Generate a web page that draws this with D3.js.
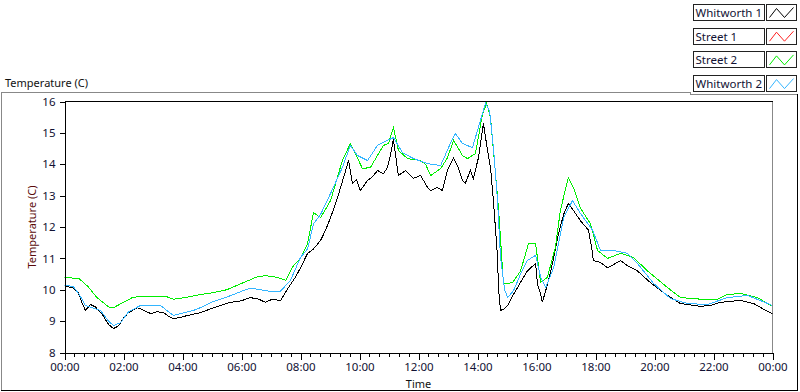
<!DOCTYPE html>
<html>
<head>
<meta charset="utf-8">
<script src="https://cdn.jsdelivr.net/npm/d3@7"></script>
<style>
  body { margin: 0; background: #fff; }
  svg { display: block; font-family: 'Noto Sans', sans-serif; font-size: 11px; }
  .tick text { fill: #111133; }
</style>
</head>
<body>
<svg id="chart" width="800" height="392"></svg>
<script>
// series: [hour of day, temperature in C]
const whitworth1 = [
  [0, 10.1], [0.27, 10.08], [0.47, 9.9], [0.61, 9.55], [0.71, 9.34], [0.88, 9.53], [1.05, 9.45],
  [1.29, 9.2], [1.49, 8.9], [1.66, 8.76], [1.83, 8.85], [2.0, 9.1], [2.17, 9.27], [2.47, 9.43],
  [2.68, 9.35], [2.92, 9.24], [3.15, 9.3], [3.36, 9.27], [3.53, 9.15], [3.69, 9.08], [3.93, 9.12],
  [4.17, 9.18], [4.61, 9.27], [4.98, 9.4], [5.29, 9.5], [5.63, 9.6], [6.0, 9.65], [6.3, 9.75],
  [6.58, 9.7], [6.81, 9.6], [7.05, 9.7], [7.32, 9.65], [7.59, 10.07], [7.83, 10.4], [8.0, 10.7],
  [8.24, 11.16], [8.44, 11.3], [8.68, 11.57], [8.85, 11.9], [9.02, 12.3], [9.19, 12.75], [9.36, 13.26],
  [9.53, 13.8], [9.63, 14.12], [9.76, 13.39], [9.9, 13.5], [10.03, 13.16], [10.27, 13.48], [10.44, 13.6],
  [10.61, 13.8], [10.81, 13.7], [10.95, 13.9], [11.05, 14.3], [11.15, 14.8], [11.25, 14.1], [11.32, 13.64],
  [11.56, 13.8], [11.83, 13.55], [12.07, 13.64], [12.31, 13.26], [12.41, 13.16], [12.64, 13.26], [12.81, 13.16],
  [12.98, 13.8], [13.19, 14.2], [13.36, 13.86], [13.49, 13.48], [13.59, 13.4], [13.76, 13.8], [13.86, 13.55],
  [14.03, 14.2], [14.2, 15.3], [14.34, 14.44], [14.44, 13.9], [14.54, 12.84], [14.68, 11.03], [14.71, 10.07],
  [14.78, 9.34], [14.92, 9.4], [15.02, 9.5], [15.19, 9.8], [15.36, 10.07], [15.53, 10.35], [15.69, 10.6],
  [15.97, 10.84], [16.03, 10.2], [16.14, 9.85], [16.2, 9.6], [16.41, 10.3], [16.58, 11.0], [16.75, 11.8],
  [16.92, 12.4], [17.08, 12.75], [17.25, 12.53], [17.49, 12.2], [17.76, 11.9], [17.86, 11.4], [17.93, 10.93],
  [18.17, 10.87], [18.41, 10.7], [18.61, 10.8], [18.85, 10.93], [19.08, 10.77], [19.42, 10.6], [19.86, 10.23],
  [20.44, 9.82], [20.88, 9.56], [21.56, 9.47], [21.9, 9.5], [22.24, 9.6], [22.92, 9.66], [23.36, 9.56],
  [23.66, 9.4], [24, 9.24]
];

const street1 = [];

const street2 = [
  [0, 10.4], [0.5, 10.35], [0.8, 10.1], [1.1, 9.75], [1.5, 9.45], [1.7, 9.45], [2.0, 9.6], [2.3, 9.75],
  [2.6, 9.8], [3.0, 9.8], [3.4, 9.8], [3.7, 9.7], [4.1, 9.75], [4.6, 9.85], [5.0, 9.9], [5.5, 10.0],
  [6.0, 10.2], [6.5, 10.4], [6.8, 10.45], [7.2, 10.4], [7.5, 10.3], [7.76, 10.77], [8.0, 11.0],
  [8.24, 11.47], [8.44, 12.46], [8.68, 12.3], [9.02, 12.84], [9.42, 14.12], [9.69, 14.66], [9.86, 14.34],
  [10.1, 13.86], [10.37, 13.9], [10.61, 14.28], [10.81, 14.6], [10.98, 14.66], [11.15, 15.17], [11.32, 14.44],
  [11.63, 14.18], [12.07, 14.12], [12.24, 14.0], [12.41, 13.64], [12.75, 13.86], [12.98, 14.2], [13.19, 14.76],
  [13.49, 14.28], [13.66, 14.18], [13.93, 14.34], [14.17, 15.6], [14.31, 15.94], [14.44, 15.5], [14.54, 14.44],
  [14.71, 12.62], [14.88, 10.2], [15.02, 10.2], [15.19, 10.23], [15.46, 10.6], [15.73, 11.47], [15.97, 11.47],
  [16.14, 10.23], [16.37, 10.4], [16.64, 11.35], [16.81, 12.53], [17.08, 13.58], [17.25, 13.26], [17.49, 12.6],
  [17.83, 12.1], [18.07, 11.25], [18.41, 11.0], [18.85, 11.16], [19.29, 11.03], [19.76, 10.6], [20.44, 10.07],
  [20.88, 9.75], [21.56, 9.7], [22.14, 9.7], [22.47, 9.85], [22.92, 9.88], [23.49, 9.75], [24, 9.47]
];

const whitworth2 = [
  [0, 10.15], [0.3, 10.1], [0.5, 9.85], [0.71, 9.5], [1.22, 9.34], [1.49, 9.0], [1.66, 8.86], [1.9, 8.95],
  [2.17, 9.3], [2.58, 9.5], [2.92, 9.5], [3.25, 9.5], [3.69, 9.18], [4.37, 9.34], [4.61, 9.43], [4.98, 9.6],
  [5.46, 9.75], [6.0, 9.95], [6.3, 10.05], [6.64, 10.0], [6.98, 9.95], [7.32, 9.95], [7.66, 10.3], [8.0, 11.03],
  [8.24, 11.3], [8.44, 12.1], [8.68, 12.4], [9.02, 13.07], [9.42, 13.9], [9.69, 14.6], [9.93, 14.28],
  [10.27, 14.12], [10.61, 14.6], [10.95, 14.76], [11.15, 14.85], [11.46, 14.37], [11.83, 14.18], [12.31, 14.02],
  [12.75, 13.96], [13.08, 14.66], [13.25, 14.98], [13.49, 14.66], [13.83, 14.53], [14.03, 15.17], [14.27, 15.94],
  [14.41, 15.7], [14.54, 14.53], [14.68, 12.84], [14.78, 11.03], [14.92, 10.0], [15.02, 9.75], [15.22, 9.97],
  [15.46, 10.5], [15.69, 10.93], [15.97, 11.1], [16.14, 10.4], [16.31, 10.07], [16.58, 10.7], [16.92, 12.3],
  [17.22, 12.84], [17.49, 12.43], [17.9, 11.9], [18.17, 11.25], [18.61, 11.25], [19.08, 11.16], [19.42, 10.84],
  [19.97, 10.2], [20.54, 9.72], [21.12, 9.56], [21.8, 9.53], [22.47, 9.75], [23.15, 9.82], [24, 9.5]
];

const seriesNames = ['Whitworth 1', 'Street 1', 'Street 2', 'Whitworth 2'];
const seriesColors = ['#000000', '#ff2020', '#00ee00', '#33b5ff'];
const yTicks = [8, 9, 10, 11, 12, 13, 14, 15, 16];
const xMajorTicks = [0, 2, 4, 6, 8, 10, 12, 14, 16, 18, 20, 22, 24];

class TempChart {
  constructor(svg) {
    this.svg = svg;
    this.series = [whitworth1, street1, street2, whitworth2];
    this.margin = { top: 101.5, bottom: 352.5, left: 64.5, right: 772.5 };

    this.x = d3.scaleLinear().domain([0, 24]).range([this.margin.left, this.margin.right]);
    this.y = d3.scaleLinear().domain([8, 16]).range([this.margin.bottom, this.margin.top]);
  }

  drawFrame() {
    const frame = this.svg.append('g').attr('fill', 'none').attr('shape-rendering', 'crispEdges');
    frame.append('path').attr('stroke', '#888').attr('d', 'M1.5,391V92.5H690.5V94.5H797');
    frame.append('path').attr('stroke', '#000').attr('d', 'M797.5,94V390.5H1');

    // plot box: top black, right grey
    frame.append('path').attr('stroke', '#000')
      .attr('d', `M${this.margin.left},${this.margin.top}H${this.margin.right}`);
    frame.append('path').attr('stroke', '#888')
      .attr('d', `M${this.margin.right},${this.margin.top}V${this.margin.bottom}`);

    this.svg.append('text')
      .attr('x', 5).attr('y', 87)
      .attr('fill', '#111')
      .text('Temperature (C)');
  }

  drawAxes() {
    const yAxis = d3.axisLeft(this.y).tickValues(yTicks).tickSize(5).tickSizeOuter(0).tickPadding(4);
    this.svg.append('g')
      .attr('transform', `translate(${this.margin.left},0)`)
      .attr('shape-rendering', 'crispEdges')
      .call(yAxis)
      .call(g => g.selectAll('text').style('font-size', '11.5px').style('font-family', 'Noto Sans'));

    const fmt = d3.format('02d');
    const xAxis = d3.axisBottom(this.x).tickValues(xMajorTicks).tickSize(7).tickSizeOuter(0).tickPadding(3)
      .tickFormat(d => `${fmt(d % 24)}:00`);
    this.svg.append('g')
      .attr('transform', `translate(0,${this.margin.bottom})`)
      .attr('shape-rendering', 'crispEdges')
      .call(xAxis)
      .call(g => g.selectAll('text').style('font-size', '11.5px').style('font-family', 'Noto Sans'));

    const minor = d3.range(0, 24 * 3 + 1).map(d => d / 3).filter(d => d % 2 !== 0);
    const xMinor = d3.axisBottom(this.x).tickValues(minor).tickSize(4).tickFormat('');
    this.svg.append('g')
      .attr('transform', `translate(0,${this.margin.bottom})`)
      .attr('shape-rendering', 'crispEdges')
      .call(xMinor)
      .call(g => g.select('.domain').remove());

    this.svg.append('text')
      .attr('x', (this.margin.left + this.margin.right) / 2).attr('y', 388)
      .attr('text-anchor', 'middle')
      .attr('fill', '#111')
      .text('Time');

    this.svg.append('text')
      .attr('transform', `translate(36,${(this.margin.top + this.margin.bottom) / 2}) rotate(-90)`)
      .attr('text-anchor', 'middle')
      .attr('fill', '#5a0a0a')
      .text('Temperature (C)');
  }

  drawLines() {
    this.svg.append('clipPath').attr('id', 'plot-clip')
      .append('rect')
      .attr('x', this.margin.left).attr('y', this.margin.top - 1)
      .attr('width', this.margin.right - this.margin.left)
      .attr('height', this.margin.bottom - this.margin.top + 1);

    const line = d3.line().x(d => this.x(d[0])).y(d => this.y(d[1]));

    this.svg.append('g')
      .attr('clip-path', 'url(#plot-clip)')
      .selectAll('path')
      .data(this.series)
      .join('path')
      .attr('fill', 'none')
      .attr('stroke', (d, i) => seriesColors[i])
      .attr('stroke-width', 1)
      .attr('shape-rendering', 'crispEdges')
      .attr('d', d => d.length ? line(d) : null);
  }

  drawLegend() {
    const rows = this.svg.append('g')
      .selectAll('g')
      .data(seriesNames)
      .join('g')
      .attr('transform', (d, i) => `translate(693.5,${4.5 + i * 23.7})`);

    rows.append('rect')
      .attr('width', 71).attr('height', 16)
      .attr('fill', '#fff').attr('stroke', '#222')
      .attr('shape-rendering', 'crispEdges');

    rows.append('text')
      .attr('x', 2).attr('y', 12.5)
      .attr('fill', '#111133')
      .style('font-size', '11.5px')
      .text(d => d);

    rows.append('rect')
      .attr('x', 73).attr('width', 30).attr('height', 16)
      .attr('fill', '#fff').attr('stroke', '#222')
      .attr('shape-rendering', 'crispEdges');

    rows.append('polyline')
      .attr('fill', 'none')
      .attr('stroke', (d, i) => seriesColors[i])
      .attr('points', '76,13 83,4 91,13 100,3');
  }

  render() {
    this.drawFrame();
    this.drawLines();
    this.drawAxes();
    this.drawLegend();
  }
}

const chart = new TempChart(d3.select('#chart'));
chart.render();
</script>
</body>
</html>
